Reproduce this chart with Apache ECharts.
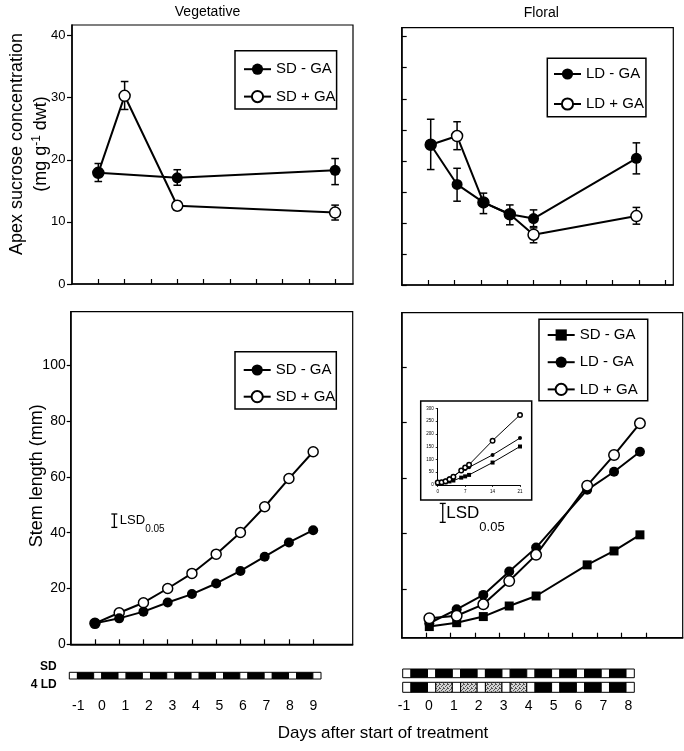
<!DOCTYPE html>
<html><head><meta charset="utf-8">
<script src="https://cdn.jsdelivr.net/npm/echarts@6/dist/echarts.min.js"></script>
<style>html,body{margin:0;padding:0;background:#fff}#c{width:684px;height:751px}</style>
</head><body><div id="c"></div>
<script>
// ---------------- data ----------------
const dayTicks = [0,1,2,3,4,5,6,7,8,9];
const sucroseLabelTicks = [0,10,20,30,40];
const floralSucroseTicks = [0,5,10,15,20,25,30,35,40];
const stemLabelTicks = [0,20,40,60,80,100];
const stemTicksRight = [20,40,60,80,100];

// Vegetative sucrose
const vegSucMinusX = [0,3,9];
const vegSucMinusY = [17.9,17.1,18.3];
const vegSucMinusLo = [16.5,15.9,16.0];
const vegSucMinusHi = [19.4,18.4,20.2];
const vegSucPlusX = [0,1,3,9];
const vegSucPlusY = [17.9,30.3,12.6,11.5];
const vegSucPlusLo = [null,28.1,11.9,10.3];
const vegSucPlusHi = [null,32.6,13.3,12.7];

// Floral sucrose
const florSucX = [0.1,1.1,2.1,3.1,4.0,7.9];
const florSucMinusY = [22.6,16.2,13.3,11.4,10.7,20.4];
const florSucMinusLo = [18.6,13.5,11.5,null,9.4,17.9];
const florSucMinusHi = [26.7,18.8,14.8,null,12.1,22.9];
const florSucPlusY = [22.6,24.0,13.3,11.4,8.1,11.1];
const florSucPlusLo = [null,21.8,null,9.7,6.8,9.8];
const florSucPlusHi = [null,26.3,null,12.9,9.2,12.5];

// Vegetative stem length
const vegStemX = [0,1,2,3,4,5,6,7,8,9];
const vegStemMinus = [7.5,9.3,11.7,15.0,18.0,21.8,26.3,31.4,36.5,40.9];
const vegStemPlus = [7.5,11.3,14.9,20.0,25.4,32.3,40.1,49.3,59.4,69.0];

// Floral stem length
const florStemX = [0.13,1.25,2.34,3.40,4.50,6.59,7.69,8.75];
const florStemSDMinus = [6.6,8.0,10.2,14.0,17.6,28.8,33.8,39.6];
const florStemLDMinus = [7.8,12.8,18.0,26.4,35.0,55.8,62.3,69.5];
const florStemLDPlus = [9.6,10.5,14.6,23.0,32.4,57.3,68.3,79.7];

// Inset (long term)
const insetDays = [0,1,2,3,4,6,7,8,14,21];
const insetSDMinus = [6.6,8.0,10.2,14.0,17.6,28.8,33.8,39.6,88,151];
const insetLDMinus = [7.8,12.8,18.0,26.4,35.0,55.8,62.3,69.5,118,184];
const insetLDPlus = [9.6,10.5,14.6,23.0,32.4,57.3,68.3,79.7,174,275];
const insetXTicks = [0,7,14,21];
const insetYTicks = [0,50,100,150,200,250,300];

// LSD values (mm)
const lsdVeg = 4.8;
const lsdFloral = 6.8;

// day labels
const vegDayLabels = [-1,0,1,2,3,4,5,6,7,8,9];
const florDayLabels = [-1,0,1,2,3,4,5,6,7,8];

// photoperiod schedule: L = light (8 h), D = dark (16 h), G = dim light extension (16 h)
const segHours = {L:8, D:16, G:16};
const vegSDBar   = ['L','D','L','D','L','D','L','D','L','D','L','D','L','D','L','D','L','D','L','D','L'];
const florSDBar  = ['L','D','L','D','L','D','L','D','L','D','L','D','L','D','L','D','L','D','L'];
const flor4LDBar = ['L','D','L','G','L','G','L','G','L','G','L','D','L','D','L','D','L','D','L'];

// ---------------- chart ----------------
const BLK = '#000';
const F = '"Liberation Sans", Arial, Helvetica, sans-serif';
const chart = echarts.init(document.getElementById('c'), null, {renderer:'canvas'});

function pairs(xs, ys){ return xs.map((x,i)=>[x, ys[i]]); }
function errs(xs, lo, hi){ return xs.map((x,i)=>[x, lo[i], hi[i]]).filter(d=>d[1]!=null); }
function barData(codes){ let t=0; return codes.map(c=>{const s=t; t+=segHours[c]; return [s,t,c==='L'?0:(c==='D'?1:2)];}); }

const pc = document.createElement('canvas'); pc.width=4; pc.height=4;
const pg = pc.getContext('2d'); pg.fillStyle='#d4d4d4'; pg.fillRect(0,0,4,4);
pg.fillStyle='#555';
[[0,0],[2,1],[1,2],[3,3],[3,0]].forEach(p=>pg.fillRect(p[0],p[1],1,1));
const stipple = {image: pc, repeat:'repeat'};

function grid(left, top, width, height, show){
  return {left, top, width, height, show: !!show, borderColor:BLK, borderWidth:1.2, backgroundColor:'transparent', containLabel:false, outerBoundsMode:'none'};
}
function xAx(gi, min, max, ticks){
  return {gridIndex:gi, type:'value', min, max,
    axisLine:{show:true, onZero:false, lineStyle:{color:BLK, width:1.5}},
    axisTick:{show:true, inside:true, length:5, customValues:ticks, lineStyle:{color:BLK, width:1.2}},
    axisLabel:{show:false}, splitLine:{show:false}};
}
function yAx(gi, min, max, ticks, labels, inside, margin, tlen, fs){
  return {gridIndex:gi, type:'value', min, max,
    axisLine:{show:true, onZero:false, lineStyle:{color:BLK, width:1.5}},
    axisTick:{show:true, inside:inside, length:tlen||5, customValues:ticks, lineStyle:{color:BLK, width:1.2}},
    axisLabel: labels ? {show:true, customValues:labels, fontSize:fs||14, color:BLK, fontFamily:F, margin:margin} : {show:false},
    splitLine:{show:false}};
}
function line(name, gi, data, symbol, filled, size, lw, z){
  return {type:'line', name, xAxisIndex:gi, yAxisIndex:gi, data, symbol, symbolSize:size, showSymbol:true,
    lineStyle:{color:BLK, width:lw}, itemStyle:{color: filled?BLK:'#fff', borderColor:BLK, borderWidth: filled?0:1.5},
    emphasis:{disabled:true}, animation:false, silent:true, z:z, clip:false};
}
function errRender(params, api){
  const x = api.value(0), lo = api.value(1), hi = api.value(2);
  const a = api.coord([x, lo]), b = api.coord([x, hi]); const w = 3.8;
  const st = {stroke:BLK, lineWidth:1.5};
  return {type:'group', children:[
    {type:'line', shape:{x1:a[0], y1:a[1], x2:b[0], y2:b[1]}, style:st},
    {type:'line', shape:{x1:a[0]-w, y1:a[1], x2:a[0]+w, y2:a[1]}, style:st},
    {type:'line', shape:{x1:b[0]-w, y1:b[1], x2:b[0]+w, y2:b[1]}, style:st}]};
}
function errSeries(gi, data){
  return {type:'custom', xAxisIndex:gi, yAxisIndex:gi, data, renderItem:errRender, silent:true, animation:false, z:2, clip:false};
}
function lsdSeries(gi, x, yc, lsd, fs, sfs, shift){
  return {type:'custom', xAxisIndex:gi, yAxisIndex:gi, data:[[x, yc, lsd]], silent:true, animation:false, z:2, clip:false,
    renderItem:function(p, api){
      const xv = api.value(0), c = api.value(1), l = api.value(2);
      const a = api.coord([xv, c - l/2]), b = api.coord([xv, c + l/2]), m = api.coord([xv, c]); const w = 3;
      const st = {stroke:BLK, lineWidth:1.3};
      return {type:'group', children:[
        {type:'line', shape:{x1:a[0], y1:a[1], x2:b[0], y2:b[1]}, style:st},
        {type:'line', shape:{x1:a[0]-w, y1:a[1], x2:a[0]+w, y2:a[1]}, style:st},
        {type:'line', shape:{x1:b[0]-w, y1:b[1], x2:b[0]+w, y2:b[1]}, style:st},
        {type:'text', x:m[0]+ (fs>15?3.5:5.5), y:m[1], style:{text:'LSD{s|0.05}', fontSize:fs, fontFamily:F, fill:BLK, align:'left', verticalAlign:'middle',
          rich:{s:{fontSize:sfs, fontFamily:F, fill:BLK, padding:[shift*2,0,0,0]}}}}]};
    }};
}
function barSeries(gi, codes){
  return {type:'custom', xAxisIndex:gi, yAxisIndex:gi, data:barData(codes), silent:true, animation:false, clip:false,
    renderItem:function(p, api){
      const a = api.coord([api.value(0), 1]), b = api.coord([api.value(1), 0]); const k = api.value(2);
      return {type:'rect', shape:{x:a[0], y:a[1], width:b[0]-a[0], height:b[1]-a[1]},
        style:{fill: k===0?'#fff':(k===1?BLK:stipple), stroke:BLK, lineWidth:1}};
    }};
}
function leg(left, top, names, pad, gap){
  return {show:true, left, top, orient:'vertical', data:names, padding:pad, itemGap:gap, itemWidth:27, itemHeight:14,
    borderColor:BLK, borderWidth:1.5, backgroundColor:'#fff', selectedMode:false, z:10,
    textStyle:{fontSize:15, color:BLK, fontFamily:F}};
}
function hiddenY(gi){ return {gridIndex:gi, type:'value', min:0, max:1, show:false}; }
function hourX(gi, total){ return {gridIndex:gi, type:'value', min:0, max:total, show:false}; }
function dayLabelX(gi, min, max){
  return {gridIndex:gi, type:'value', min, max, interval:1, axisLine:{show:false}, axisTick:{show:false}, splitLine:{show:false},
    axisLabel:{show:true, fontSize:14, color:BLK, fontFamily:F, margin:2.5}};
}
const totalHours = c => c.reduce((s,k)=>s+segHours[k],0);

const option = {
  animation:false,
  backgroundColor:'#fff',
  textStyle:{fontFamily:F, color:BLK},
  grid:[
    grid(72, 25, 281, 259, true),          // 0 TL
    grid(401.7, 27.7, 271.6, 257.3, true), // 1 TR
    grid(70.7, 311.7, 282, 332.6, true),   // 2 BL
    grid(401.7, 312.7, 281, 325, true),    // 3 BR
    grid(437.7, 408.5, 82.3, 76.5, false), // 4 inset
    grid(69.3, 672.3, 251.7, 6.7, false),  // 5 veg bar
    grid(402.7, 669, 231.6, 8.7, false),   // 6 floral SD bar
    grid(402.7, 682.3, 231.6, 10, false),  // 7 floral 4LD bar
    grid(78.3, 696, 235, 1, false),        // 8 veg day labels
    grid(404, 696, 224.3, 1, false)        // 9 floral day labels
  ],
  xAxis:[
    xAx(0, -1, 9.68, dayTicks),
    xAx(1, -1, 9.3, dayTicks),
    xAx(2, -1, 10.63, dayTicks),
    xAx(3, -1, 10.5, dayTicks),
    {gridIndex:4, type:'value', min:0, max:21,
      axisLine:{onZero:false, lineStyle:{color:BLK, width:1}},
      axisTick:{show:true, inside:false, length:2, customValues:insetXTicks, lineStyle:{color:BLK, width:0.8}},
      axisLabel:{show:true, customValues:insetXTicks, fontSize:4.5, color:BLK, fontFamily:F, margin:4}, splitLine:{show:false}},
    hourX(5, totalHours(vegSDBar)),
    hourX(6, totalHours(florSDBar)),
    hourX(7, totalHours(flor4LDBar)),
    dayLabelX(8, vegDayLabels[0], vegDayLabels[vegDayLabels.length-1]),
    dayLabelX(9, florDayLabels[0], florDayLabels[florDayLabels.length-1])
  ],
  yAxis:[
    yAx(0, 0, 41.7, sucroseLabelTicks, sucroseLabelTicks, false, 6.5, 5, 13),
    yAx(1, 0, 41.45, floralSucroseTicks, null, true, 0, 5),
    yAx(2, 0, 119.2, stemLabelTicks, stemLabelTicks, false, 5, 4, 14),
    yAx(3, 2.6, 119.5, stemTicksRight, null, true, 0, 5),
    {gridIndex:4, type:'value', min:0, max:300,
      axisLine:{onZero:false, lineStyle:{color:BLK, width:1}},
      axisTick:{show:true, inside:false, length:2, customValues:insetYTicks, lineStyle:{color:BLK, width:0.8}},
      axisLabel:{show:true, customValues:insetYTicks, fontSize:4.5, color:BLK, fontFamily:F, margin:4}, splitLine:{show:false}},
    hiddenY(5), hiddenY(6), hiddenY(7), hiddenY(8), hiddenY(9)
  ],
  legend:[
    leg(235, 50.7, ['SD - GA','SD + GA'], [11,1,5,8], 12.4),
    leg(547.3, 58.3, ['LD - GA','LD + GA'], [8.2,2,5.2,5.7], 15),
    leg(235, 351.7, ['SD - GA','SD + GA'], [10.8,1,4.8,7.7], 11.7),
    leg(539, 319.3, ['SD - GA ','LD - GA','LD + GA'], [8.2,8,3.9,7.7], 12.2)
  ],
  series:[
    // TL vegetative sucrose
    errSeries(0, errs(vegSucMinusX, vegSucMinusLo, vegSucMinusHi)),
    errSeries(0, errs(vegSucPlusX, vegSucPlusLo, vegSucPlusHi)),
    line('SD + GA', 0, pairs(vegSucPlusX, vegSucPlusY), 'circle', false, 11, 2, 3),
    line('SD - GA', 0, pairs(vegSucMinusX, vegSucMinusY), 'circle', true, 11, 2, 4),
    // TR floral sucrose
    errSeries(1, errs(florSucX, florSucMinusLo, florSucMinusHi)),
    errSeries(1, errs(florSucX, florSucPlusLo, florSucPlusHi)),
    line('LD + GA', 1, pairs(florSucX, florSucPlusY), 'circle', false, 11, 2, 3),
    line('LD - GA', 1, pairs(florSucX, florSucMinusY), 'circle', true, 11, 2, 4),
    // BL vegetative stem
    line('SD + GA', 2, pairs(vegStemX, vegStemPlus), 'circle', false, 10, 2, 3),
    line('SD - GA', 2, pairs(vegStemX, vegStemMinus), 'circle', true, 10, 2, 4),
    lsdSeries(2, 0.8, 44.3, lsdVeg, 13, 10, 9),
    // BR floral stem
    line('LD - GA', 3, pairs(florStemX, florStemLDMinus), 'circle', true, 10, 2, 3),
    line('SD - GA ', 3, pairs(florStemX, florStemSDMinus), 'rect', true, 9, 2, 4),
    line('LD + GA', 3, pairs(florStemX, florStemLDPlus), 'circle', false, 10.5, 2, 5),
    lsdSeries(3, 0.68, 47.5, lsdFloral, 17, 13, 14.5),
    // inset
    line('inset SD - GA', 4, pairs(insetDays, insetSDMinus), 'rect', true, 4, 1, 6),
    line('inset LD - GA', 4, pairs(insetDays, insetLDMinus), 'circle', true, 4, 1, 6),
    line('inset LD + GA', 4, pairs(insetDays, insetLDPlus), 'circle', false, 4.5, 1, 7),
    // photoperiod bars
    barSeries(5, vegSDBar),
    barSeries(6, florSDBar),
    barSeries(7, flor4LDBar)
  ],
  graphic:[
    {type:'rect', shape:{x:420.7, y:401, width:111, height:99}, style:{fill:'none', stroke:BLK, lineWidth:1.5}, z:5, silent:true},
    {type:'text', x:207.5, y:11.7, style:{text:'Vegetative', fontSize:14, fontFamily:F, fill:BLK, align:'center', verticalAlign:'middle'}},
    {type:'text', x:541.3, y:13, style:{text:'Floral', fontSize:14, fontFamily:F, fill:BLK, align:'center', verticalAlign:'middle'}},
    {type:'text', x:29.5, y:144, rotation:Math.PI/2, style:{text:'Apex sucrose concentration\n{a|(mg g}{s|-1}{a| dwt)}', fontSize:18, lineHeight:24, fontFamily:F, fill:BLK, align:'center', verticalAlign:'middle',
      rich:{a:{fontSize:18, fontFamily:F, fill:BLK, lineHeight:24}, s:{fontSize:12, fontFamily:F, fill:BLK, padding:[0,0,10,0]}}}},
    {type:'text', x:36.7, y:475.7, rotation:Math.PI/2, style:{text:'Stem length (mm)', fontSize:18, fontFamily:F, fill:BLK, align:'center', verticalAlign:'middle'}},
    {type:'text', x:56.7, y:666.7, style:{text:'SD', fontSize:12, fontWeight:'bold', fontFamily:F, fill:BLK, align:'right', verticalAlign:'middle'}},
    {type:'text', x:56.7, y:685, style:{text:'4 LD', fontSize:12, fontWeight:'bold', fontFamily:F, fill:BLK, align:'right', verticalAlign:'middle'}},
    {type:'text', x:383, y:733.3, style:{text:'Days after start of treatment', fontSize:17, fontFamily:F, fill:BLK, align:'center', verticalAlign:'middle'}}
  ]
};
chart.setOption(option);
</script>
</body></html>
